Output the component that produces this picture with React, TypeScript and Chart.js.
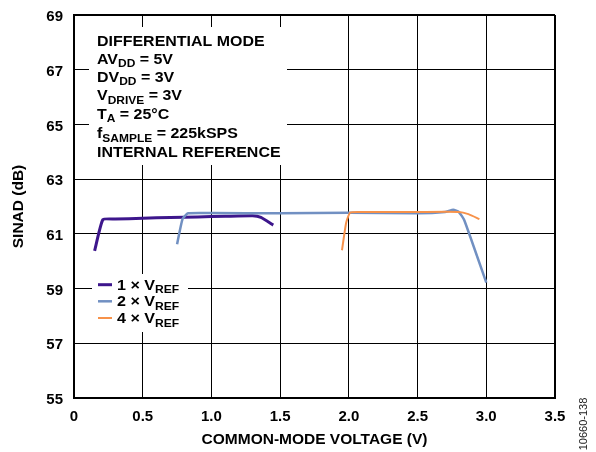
import { useEffect, useRef } from "react";
import { Chart, registerables } from "chart.js";

Chart.register(...registerables);

// ---- data ----
const xTicks = [0, 0.5, 1.0, 1.5, 2.0, 2.5, 3.0, 3.5];
const yTicks = [55, 57, 59, 61, 63, 65, 67, 69];

const ref1x = [0.15, 0.21, 0.3, 0.5, 0.7, 0.9, 1.1, 1.3, 1.36, 1.45];
const ref1y = [60.38, 61.52, 61.54, 61.57, 61.6, 61.62, 61.64, 61.66, 61.6, 61.32];

const ref2x = [0.75, 0.79, 0.83, 1.0, 1.5, 2.0, 2.5, 2.7, 2.76, 2.8, 2.84, 3.0];
const ref2y = [60.62, 61.55, 61.75, 61.76, 61.75, 61.77, 61.75, 61.8, 61.88, 61.8, 61.5, 59.22];

const ref4x = [1.95, 1.98, 2.01, 2.1, 2.5, 2.8, 2.87, 2.95];
const ref4y = [60.4, 61.4, 61.78, 61.8, 61.8, 61.8, 61.72, 61.54];

const seriesLabels = ["1 × V", "2 × V", "4 × V"];
const seriesSub = ["REF", "REF", "REF"];
const seriesColors = ["#3d168c", "#7190c2", "#f7924a"];
const seriesWidths = [3, 2.5, 2];
const seriesOrder = [2, 1, 0];

const xTitle = "COMMON-MODE VOLTAGE (V)";
const yTitle = "SINAD (dB)";
const figId = "10660-138";

type Seg = { t: string; sub?: boolean };
const conditionLines: Seg[][] = [
  [{ t: "DIFFERENTIAL MODE" }],
  [{ t: "AV" }, { t: "DD", sub: true }, { t: " = 5V" }],
  [{ t: "DV" }, { t: "DD", sub: true }, { t: " = 3V" }],
  [{ t: "V" }, { t: "DRIVE", sub: true }, { t: " = 3V" }],
  [{ t: "T" }, { t: "A", sub: true }, { t: " = 25°C" }],
  [{ t: "f" }, { t: "SAMPLE", sub: true }, { t: " = 225kSPS" }],
  [{ t: "INTERNAL REFERENCE" }],
];

const FONT = "'Liberation Sans', Arial, Helvetica, sans-serif";

function drawRich(
  ctx: CanvasRenderingContext2D,
  x: number,
  y: number,
  segs: Seg[],
  size: number,
  subSize: number,
  sx: number
) {
  ctx.save();
  ctx.translate(x, y);
  ctx.scale(sx, 1);
  ctx.fillStyle = "#000";
  ctx.textBaseline = "alphabetic";
  ctx.textAlign = "left";
  let cx = 0;
  for (const s of segs) {
    ctx.font = `bold ${s.sub ? subSize : size}px ${FONT}`;
    ctx.fillText(s.t, cx, s.sub ? 3.5 : 0);
    cx += ctx.measureText(s.t).width;
  }
  ctx.restore();
}

const overlayPlugin = {
  id: "overlay",
  beforeDatasetsDraw(chart: any) {
    const ctx: CanvasRenderingContext2D = chart.ctx;
    ctx.save();
    ctx.fillStyle = "#fff";
    ctx.fillRect(89, 27, 198, 138);
    ctx.fillRect(92, 274, 96, 58);
    ctx.restore();
  },
  afterDatasetsDraw(chart: any) {
    const ctx: CanvasRenderingContext2D = chart.ctx;
    const baselines = [46, 63.5, 81.5, 100, 118.8, 138, 157.3];
    conditionLines.forEach((segs, i) => {
      drawRich(ctx, 97, baselines[i], segs, 14, 10.5, 1.14);
    });
    const legBase = [289.7, 306.3, 323];
    seriesLabels.forEach((lab, i) => {
      ctx.save();
      ctx.strokeStyle = seriesColors[i];
      ctx.lineWidth = seriesWidths[i];
      ctx.beginPath();
      ctx.moveTo(98, legBase[i] - 5);
      ctx.lineTo(112, legBase[i] - 5);
      ctx.stroke();
      ctx.restore();
      drawRich(ctx, 117, legBase[i], [{ t: lab }, { t: seriesSub[i], sub: true }], 14, 10.5, 1.15);
    });
    ctx.save();
    ctx.translate(584, 424);
    ctx.rotate(-Math.PI / 2);
    ctx.font = `11px ${FONT}`;
    ctx.fillStyle = "#222";
    ctx.textAlign = "center";
    ctx.textBaseline = "middle";
    ctx.fillText(figId, 0, 0);
    ctx.restore();
  },
};

function toPts(xs: number[], ys: number[]) {
  return xs.map((x, i) => ({ x, y: ys[i] }));
}

export default function App() {
  const canvasRef = useRef<HTMLCanvasElement | null>(null);

  useEffect(() => {
    if (!canvasRef.current) return;
    const data = [toPts(ref1x, ref1y), toPts(ref2x, ref2y), toPts(ref4x, ref4y)];
    const chart = new Chart(canvasRef.current, {
      type: "line",
      data: {
        datasets: data.map((d, i) => ({
          label: seriesLabels[i] + seriesSub[i],
          data: d,
          borderColor: seriesColors[i],
          backgroundColor: seriesColors[i],
          borderWidth: seriesWidths[i],
          order: seriesOrder[i],
          pointRadius: 0,
          tension: 0.15,
          fill: false,
        })),
      },
      options: {
        animation: false,
        responsive: false,
        devicePixelRatio: 1,
        layout: { padding: { left: 0, top: 15, right: 41, bottom: 0 } },
        plugins: { legend: { display: false }, tooltip: { enabled: false } },
        scales: {
          x: {
            type: "linear",
            min: 0,
            max: 3.5,
            afterBuildTicks: (s: any) => {
              s.ticks = xTicks.map((v) => ({ value: v }));
            },
            afterFit: (s: any) => {
              s.height = 54;
              s.paddingLeft = 4;
              s.paddingRight = 4;
            },
            grid: {
              color: "#000",
              lineWidth: (c: any) => (c.tick && c.tick.value === 3.5 ? 2 : 1),
              drawTicks: false,
            },
            border: { display: true, color: "#000", width: 2 },
            ticks: {
              padding: 10,
              color: "#000",
              font: { family: FONT, size: 15, weight: "bold" },
              maxRotation: 0,
              autoSkip: false,
              callback: (v: any) => (Number(v) === 0 ? "0" : Number(v).toFixed(1)),
            },
            title: {
              display: true,
              text: xTitle,
              color: "#000",
              font: { family: FONT, size: 15.5, weight: "bold" },
              padding: { top: 0, bottom: 3 },
            },
          },
          y: {
            type: "linear",
            min: 55,
            max: 69,
            afterBuildTicks: (s: any) => {
              s.ticks = yTicks.map((v) => ({ value: v }));
            },
            afterFit: (s: any) => {
              s.width = 74;
              s.paddingTop = 4;
              s.paddingBottom = 4;
            },
            grid: {
              color: "#000",
              lineWidth: (c: any) => (c.tick && c.tick.value === 69 ? 2 : 1),
              drawTicks: false,
            },
            border: { display: true, color: "#000", width: 2 },
            ticks: {
              padding: 11,
              labelOffset: 2,
              color: "#000",
              font: { family: FONT, size: 15, weight: "bold" },
              autoSkip: false,
              callback: (v: any) => String(v),
            },
            title: {
              display: true,
              text: yTitle,
              color: "#000",
              font: { family: FONT, size: 15.5, weight: "bold" },
              padding: { top: 9, bottom: 0 },
            },
          },
        },
      },
      plugins: [overlayPlugin],
    } as any);
    return () => chart.destroy();
  }, []);

  return (
    <div style={{ position: "fixed", left: 0, top: 0, width: 596, height: 452, background: "#fff" }}>
      <canvas ref={canvasRef} width={596} height={452} style={{ display: "block" }} />
    </div>
  );
}
